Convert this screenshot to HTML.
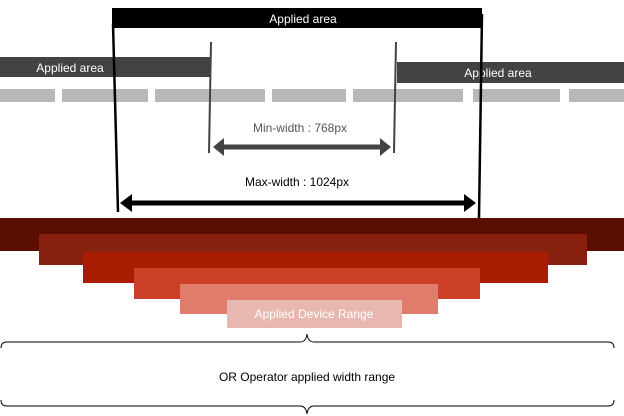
<!DOCTYPE html>
<html><head><style>
body{margin:0;background:#fff;}
svg{display:block;font-family:"Liberation Sans",sans-serif;}
</style></head><body>
<svg width="624" height="416" viewBox="0 0 624 416" xmlns="http://www.w3.org/2000/svg">
<!-- dashes -->
<g fill="#b8b8b8">
<rect x="0" y="89" width="55" height="13"/><rect x="62" y="89" width="86" height="13"/>
<rect x="155" y="89" width="110" height="13"/><rect x="272" y="89" width="74" height="13"/>
<rect x="353" y="89" width="110" height="13"/><rect x="473" y="89" width="87" height="13"/>
<rect x="569" y="89" width="55" height="13"/>
</g>
<rect x="0" y="57" width="210" height="20" fill="#434343"/>
<text x="70" y="72" font-size="12" fill="#fff" text-anchor="middle">Applied area</text>
<rect x="397" y="62" width="227" height="21" fill="#434343"/>
<text x="498" y="77" font-size="12" fill="#fff" text-anchor="middle">Applied area</text>
<rect x="112" y="8" width="370" height="20" fill="#000"/>
<text x="303" y="23" font-size="12" fill="#fff" text-anchor="middle">Applied area</text>
<!-- verticals -->
<line x1="113" y1="24" x2="118" y2="212" stroke="#000" stroke-width="2.5"/>
<line x1="482" y1="14" x2="479" y2="218" stroke="#000" stroke-width="2.5"/>
<line x1="211" y1="42" x2="209" y2="153" stroke="#434343" stroke-width="2"/>
<line x1="396" y1="42" x2="394" y2="153" stroke="#434343" stroke-width="2"/>
<!-- min arrow -->
<line x1="220" y1="147" x2="384" y2="147" stroke="#434343" stroke-width="5"/>
<polygon points="213,147 224,138 224,156" fill="#434343"/>
<polygon points="391,147 380,138 380,156" fill="#434343"/>
<text x="300" y="132" font-size="12" fill="#555" text-anchor="middle">Min-width : 768px</text>
<!-- max arrow -->
<line x1="128" y1="203" x2="468" y2="203" stroke="#000" stroke-width="5"/>
<polygon points="120,203 132,194 132,212" fill="#000"/>
<polygon points="476,203 464,194 464,212" fill="#000"/>
<text x="297" y="186" font-size="12" fill="#000" text-anchor="middle">Max-width : 1024px</text>
<!-- red bars -->
<rect x="0" y="218" width="624" height="33" fill="#5a0f02"/>
<rect x="39" y="234" width="548" height="31" fill="#882010"/>
<rect x="83" y="252" width="465" height="31" fill="#a81c02"/>
<rect x="134" y="268" width="346" height="31" fill="#cc4028"/>
<rect x="180" y="284" width="258" height="30" fill="#e07c6c"/>
<rect x="227" y="300" width="175" height="28" fill="#e8b8b0"/>
<text x="314" y="318" font-size="12" fill="#fff" text-anchor="middle">Applied Device Range</text>
<!-- braces -->
<path d="M1,348 Q1,342 7,342 L300,342 Q306,342 307,334 Q308,342 314,342 L608,342 Q614,342 614,348" fill="none" stroke="#000" stroke-width="1"/>
<path d="M1,400 Q1,406 7,406 L300,406 Q306,406 307,414 Q308,406 314,406 L608,406 Q614,406 614,400" fill="none" stroke="#000" stroke-width="1"/>
<text x="307" y="381" font-size="12" fill="#000" text-anchor="middle">OR Operator applied width range</text>
</svg>
</body></html>
